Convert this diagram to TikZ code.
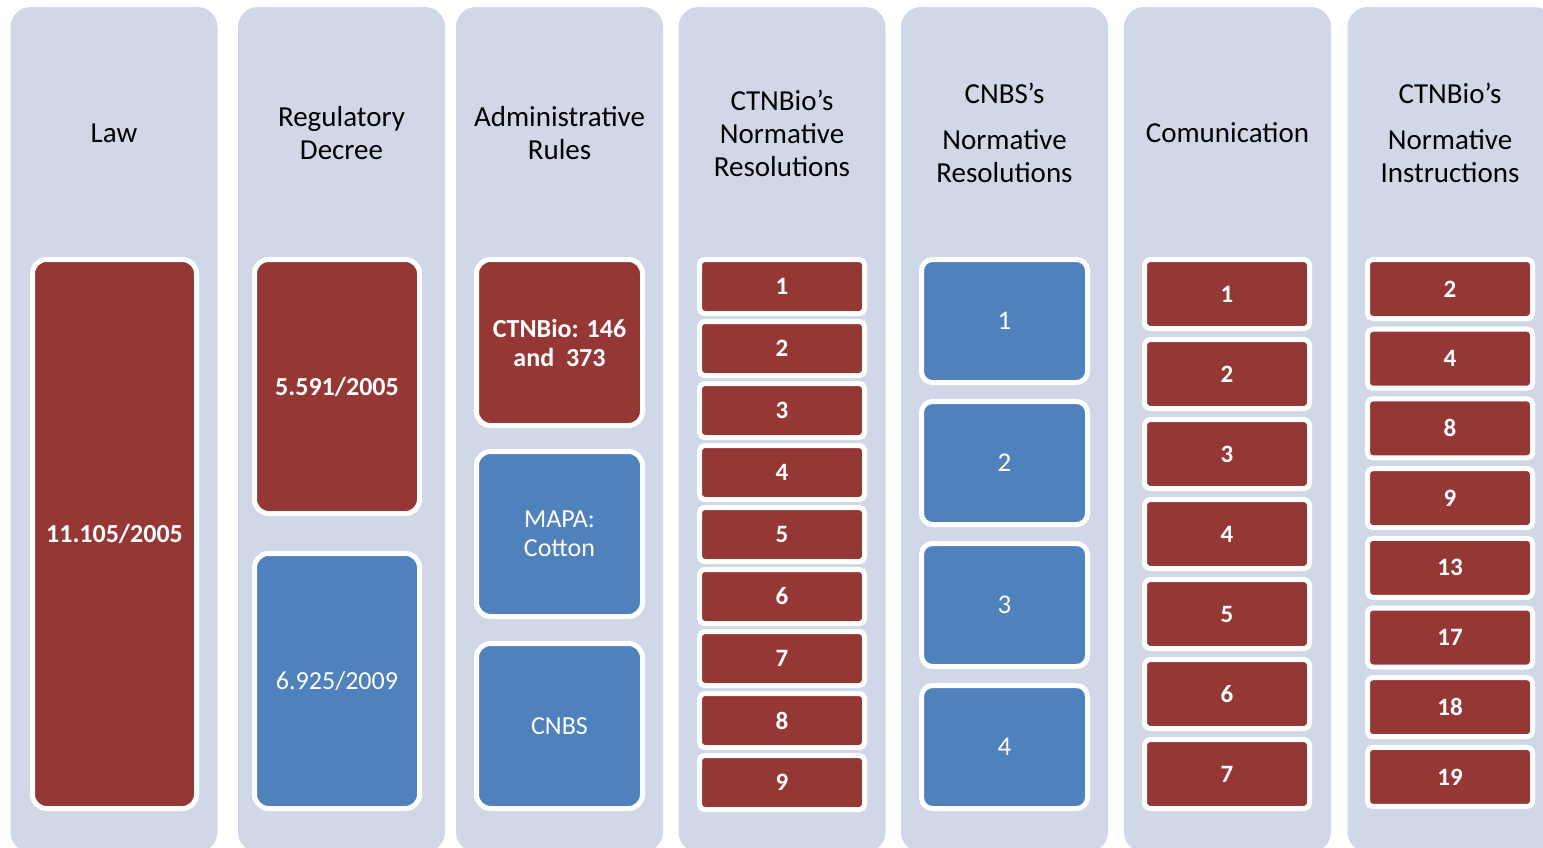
\documentclass[tikz,border=0pt]{standalone}
\usepackage{fontspec}
\setmainfont{Carlito}
\usepackage{xcolor}
\usetikzlibrary{positioning}
\definecolor{columncolor}{HTML}{D0D8E8}
\definecolor{actcolor}{HTML}{953735}
\definecolor{othercolor}{HTML}{4F81BD}

\begin{document}
\begin{tikzpicture}[
    x=1pt, y=-1pt,
    % Column styles
    columnnode/.style={
        rectangle, rounded corners=20pt, fill=columncolor,
        minimum width=207pt, minimum height=845pt, inner sep=0pt
    },
    headnode/.style={
        align=center, text=black,
        font=\fontsize{29}{33}\selectfont
    },
    % Box styles
    bigbox/.style={
        rectangle, rounded corners=14pt,
        draw=white, line width=5pt, text=white,
        inner sep=0pt, align=center,
        font=\fontsize{26}{29}\selectfont
    },
    redbig/.style={
        bigbox, fill=actcolor, font=\fontsize{26}{29}\selectfont\bfseries
    },
    bluebig/.style={
        bigbox, fill=othercolor
    },
    numbox/.style={
        rectangle, rounded corners=5pt,
        draw=white, line width=5pt, fill=actcolor, text=white,
        minimum width=165pt, inner sep=0pt,
        font=\fontsize{25}{28}\selectfont\bfseries
    },
    bluenum/.style={
        bigbox, fill=othercolor, rounded corners=11pt,
        minimum width=166pt, minimum height=123pt,
        font=\fontsize{27}{30}\selectfont
    }
]
\useasboundingbox (0,0) rectangle (1543,847);
\clip (0,0) rectangle (1543,847);

% ============ COLUMNS ============
\node[columnnode] (law) at (114, 429.5) {};
\node[columnnode] (decree) at (341.5, 429.5) {};
\node[columnnode] (rules) at (559.5, 429.5) {};
\node[columnnode] (ctnres) at (782, 429.5) {};
\node[columnnode] (cnbsres) at (1004.5, 429.5) {};
\node[columnnode] (comm) at (1227.5, 429.5) {};
\node[columnnode] (ctnins) at (1451, 429.5) {};

% ============ HEADER LABELS ============
\node[headnode] at (114, 133) {Law};
\node[headnode] at (341.5, 133) {Regulatory\\Decree};
\node[headnode] at (559.5, 133) {Administrative\\Rules};
\node[headnode] at (782, 133) {CTNBio’s\\Normative\\Resolutions};
\node[headnode] at (1004.5, 133) {CNBS’s\\[13pt]Normative\\Resolutions};
\node[headnode] at (1227.5, 133) {Comunication};
\node[headnode] at (1450, 133) {CTNBio’s\\[13pt]Normative\\Instructions};

% ============ LAW ============
\node[redbig, minimum width=164pt, minimum height=549pt] (lawbox) at (114.5, 534) {11.105/2005};

% ============ REGULATORY DECREE ============
\node[redbig, minimum width=165pt, minimum height=254pt] (dec1) at (337, 386.5) {5.591/2005};
\node[bluebig, minimum width=165pt, minimum height=255pt] (dec2) at (337, 681) {6.925/2009};

% ============ ADMINISTRATIVE RULES ============
\node[redbig, minimum width=166pt, minimum height=166pt] (ctnbio) at (559.5, 342.5) {CTNBio: 146\\and~~373};
\node[bluebig, minimum width=166pt, minimum height=165pt] (mapa) at (559.5, 534) {MAPA:\\Cotton};
\node[bluebig, minimum width=166pt, minimum height=165pt] (cnbs) at (559.5, 726) {CNBS};

% ============ CTNBIO NORMATIVE RESOLUTIONS ============
\node[numbox, minimum height=54pt] (rn1) at (782, 286.5) {1};
\node[numbox, minimum height=54pt] (rn2) at (782, 348.5) {2};
\node[numbox, minimum height=54pt] (rn3) at (782, 410.5) {3};
\node[numbox, minimum height=54pt] (rn4) at (782, 472.5) {4};
\node[numbox, minimum height=54pt] (rn5) at (782, 534.5) {5};
\node[numbox, minimum height=54pt] (rn6) at (782, 596.5) {6};
\node[numbox, minimum height=54pt] (rn7) at (782, 658.5) {7};
\node[numbox, minimum height=54pt] (rn8) at (782, 720.5) {8};
\node[numbox, minimum height=54pt] (rn9) at (782, 782.5) {9};

% ============ CNBS NORMATIVE RESOLUTIONS ============
\node[bluenum] (cn1) at (1004.5, 321) {1};
\node[bluenum] (cn2) at (1004.5, 463) {2};
\node[bluenum] (cn3) at (1004.5, 605) {3};
\node[bluenum] (cn4) at (1004.5, 747) {4};

% ============ COMUNICATION ============
\node[numbox, minimum height=69pt, rounded corners=6pt] (co1) at (1227, 294) {1};
\node[numbox, minimum height=69pt, rounded corners=6pt] (co2) at (1227, 374) {2};
\node[numbox, minimum height=69pt, rounded corners=6pt] (co3) at (1227, 454) {3};
\node[numbox, minimum height=69pt, rounded corners=6pt] (co4) at (1227, 534) {4};
\node[numbox, minimum height=69pt, rounded corners=6pt] (co5) at (1227, 614) {5};
\node[numbox, minimum height=69pt, rounded corners=6pt] (co6) at (1227, 694) {6};
\node[numbox, minimum height=69pt, rounded corners=6pt] (co7) at (1227, 774) {7};

% ============ CTNBIO NORMATIVE INSTRUCTIONS ============
\node[numbox, minimum height=59pt] (in2) at (1450, 289) {2};
\node[numbox, minimum height=59pt] (in4) at (1450, 358.7) {4};
\node[numbox, minimum height=59pt] (in8) at (1450, 428.4) {8};
\node[numbox, minimum height=59pt] (in9) at (1450, 498.1) {9};
\node[numbox, minimum height=59pt] (in13) at (1450, 567.8) {13};
\node[numbox, minimum height=59pt] (in17) at (1450, 637.5) {17};
\node[numbox, minimum height=59pt] (in18) at (1450, 707.2) {18};
\node[numbox, minimum height=59pt] (in19) at (1450, 776.9) {19};

\end{tikzpicture}
\end{document}
